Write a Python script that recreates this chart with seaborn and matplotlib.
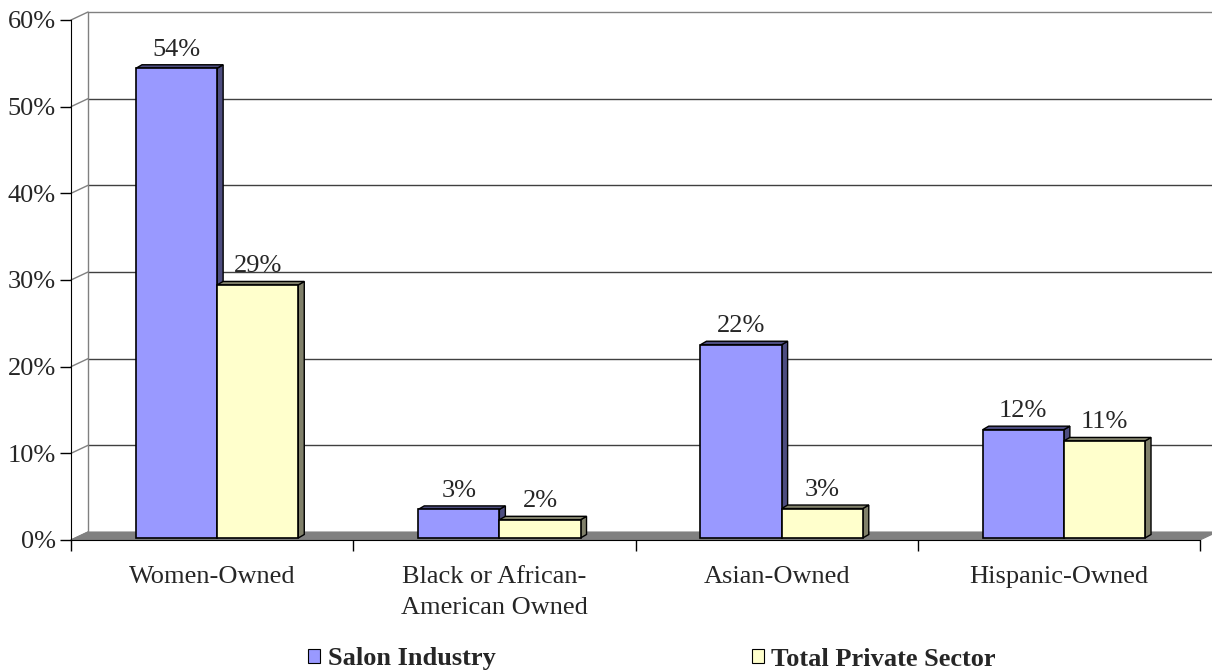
import pandas as pd
import matplotlib.pyplot as plt
import seaborn as sns
from matplotlib.patches import Polygon, Patch

# Data
categories = ['Women-Owned', 'Black or African-\nAmerican Owned', 'Asian-Owned', 'Hispanic-Owned']
salon_industry = [0.542, 0.033, 0.223, 0.125]
private_sector = [0.292, 0.021, 0.034, 0.112]
series_names = ['Salon Industry', 'Total Private Sector']
y_ticks = [0, 0.1, 0.2, 0.3, 0.4, 0.5, 0.6]

data = pd.DataFrame({
    'Category': categories * 2,
    'Share': salon_industry + private_sector,
    'Series': [series_names[0]] * 4 + [series_names[1]] * 4,
})

sns.set_style('white')
plt.rcParams['font.family'] = ['Liberation Serif', 'DejaVu Serif']
FS = 19

face_colors = ['#9999FF', '#FFFFCC']
shade_colors = ['#4D4D80', '#80806A']

W, H, DPI = 1212, 671, 100
fig = plt.figure(figsize=(W / DPI, H / DPI), dpi=DPI)
left_px, right_px, bottom_px, top_px = 71, 1200, 540, 20
ax = fig.add_axes([left_px / W, 1 - bottom_px / H,
                   (right_px - left_px) / W, (bottom_px - top_px) / H])

sns.barplot(data=data, x='Category', y='Share', hue='Series', palette=face_colors,
            saturation=1, width=0.575, edgecolor='black', linewidth=1.2,
            legend=False, ax=ax)

ax.set_xlim(-0.5, 3.5)
ax.set_ylim(0, 0.6)

# pixel -> data unit helpers
px_x = 4.0 / (right_px - left_px)
px_y = 0.6 / (bottom_px - top_px)

# back wall depth
wdx, wdy = 17 * px_x, 8 * px_y
# bar placement inside the depth, and bar depth
bshift_x, bshift_y = 5 * px_x, 2 * px_y
bdx, bdy = 6 * px_x, 3.5 * px_y

# floor
ax.add_patch(Polygon([(-0.5, 0), (3.5, 0), (3.5 + wdx, wdy), (-0.5 + wdx, wdy)],
                     closed=True, facecolor='#808080', edgecolor='#808080',
                     lw=0.8, clip_on=False, zorder=0.5))

# back wall gridlines and side connectors
for t in y_ticks[1:]:
    col = '#808080' if t == y_ticks[-1] else '#404040'
    ax.plot([-0.5 + wdx, 3.5 + wdx], [t + wdy, t + wdy], color=col, lw=1,
            clip_on=False, zorder=0.4)
for t in y_ticks:
    ax.plot([-0.5, -0.5 + wdx], [t, t + wdy], color='#808080', lw=1,
            clip_on=False, zorder=0.4)
ax.plot([-0.5 + wdx, -0.5 + wdx], [wdy, 0.6 + wdy], color='#808080', lw=1,
        clip_on=False, zorder=0.4)

# 3D faces for each bar
for ci, cont in enumerate(ax.containers):
    for bar in cont:
        bar.set_x(bar.get_x() + bshift_x)
        bar.set_y(bshift_y)
        bar.set_zorder(3)
        x0 = bar.get_x()
        x1 = x0 + bar.get_width()
        y0 = bar.get_y()
        y1 = y0 + bar.get_height()
        ax.add_patch(Polygon([(x1, y0), (x1 + bdx, y0 + bdy), (x1 + bdx, y1 + bdy), (x1, y1)],
                             closed=True, facecolor=shade_colors[ci], edgecolor='black',
                             lw=1.0, zorder=2.9, clip_on=False))
        ax.add_patch(Polygon([(x0, y1), (x0 + bdx, y1 + bdy), (x1 + bdx, y1 + bdy), (x1, y1)],
                             closed=True, facecolor=shade_colors[ci], edgecolor='black',
                             lw=1.0, zorder=2.9, clip_on=False))
        ax.annotate(f'{bar.get_height():.0%}', ((x0 + x1) / 2, y1 + bdy),
                    xytext=(0, 3), textcoords='offset points', ha='center', va='bottom',
                    fontsize=FS, annotation_clip=False)

# axes styling
sns.despine(ax=ax, top=True, right=True)
ax.spines['left'].set_color('black')
ax.spines['bottom'].set_color('black')
ax.spines['left'].set_zorder(5)
ax.spines['bottom'].set_zorder(5)

ax.set_yticks(y_ticks)
ax.set_yticklabels([f'{t:.0%}' for t in y_ticks], fontsize=FS)
ax.tick_params(axis='y', direction='out', length=8, width=1, color='black', pad=3, left=True)

ax.set_xticks([-0.5, 0.5, 1.5, 2.5, 3.5])
ax.set_xticklabels([])
ax.set_xticks(range(4), minor=True)
ax.set_xticklabels(categories, minor=True, fontsize=FS, linespacing=1.5, va='top')
ax.tick_params(axis='x', which='major', direction='out', length=8, width=1, color='black', bottom=True)
ax.tick_params(axis='x', which='minor', length=0, pad=19)
ax.set_xlabel('')
ax.set_ylabel('')

# legend
handles = [Patch(facecolor=c, edgecolor='black', lw=0.8) for c in face_colors]
fig.legend(handles, series_names, loc='center', bbox_to_anchor=(0.538, 1 - 659 / H),
           ncol=2, frameon=False, prop={'weight': 'bold', 'size': FS},
           handlelength=0.45, handleheight=0.45, handletextpad=0.3, columnspacing=9.7)

fig.savefig('out.png', dpi=DPI)
